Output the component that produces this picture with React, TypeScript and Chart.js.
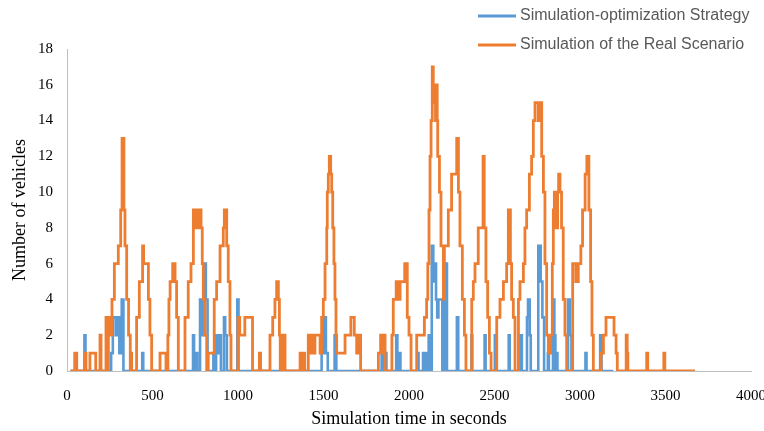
import React, { useEffect, useRef } from "react";
import { Chart, registerables } from "chart.js";

Chart.register(...registerables);

// ---- Data (change points of step series: from time t the value is v) ----
const seriesLabels = ["Simulation-optimization Strategy", "Simulation of the Real Scenario"];
const xTicksMax = 4000;
const yTicksMax = 18;

const blueTimes = [
  20, 102, 108, 258, 268, 285, 292, 306, 320, 330, 440, 446,
  737, 743, 752, 762, 778, 788, 800, 812, 822,
  856, 862, 872, 878, 890, 900, 918, 925, 935, 996, 1003,
  1489, 1503, 1514, 1525, 1565, 1575,
  1840, 1848, 1862, 1868, 1925, 1932, 1945, 1950,
  2050, 2056, 2082, 2088, 2100, 2106, 2115, 2120,
  2133, 2142, 2150, 2158, 2165, 2172, 2180, 2195, 2208, 2222,
  2280, 2288, 2365, 2370, 2442, 2448, 2502, 2508, 2583, 2589, 2652, 2660,
  2690, 2696, 2706, 2712, 2756, 2770, 2780, 2790,
  2812, 2818, 2842, 2850, 2856, 2862, 2868, 2930, 2940, 2950,
  3032, 3038, 3118, 3126, 3195,
];
const blueValues = [
  0, 2, 0, 1, 3, 2, 3, 1, 4, 0, 1, 0,
  2, 0, 1, 0, 4, 2, 6, 4, 0,
  1, 0, 2, 1, 2, 0, 3, 2, 0, 4, 0,
  1, 3, 1, 0, 2, 0,
  2, 0, 1, 0, 2, 0, 1, 0,
  1, 0, 1, 0, 1, 0, 2, 0,
  7, 5, 6, 4, 3, 4, 4, 0, 6, 0,
  3, 0, 2, 0, 2, 0, 2, 0, 2, 0, 2, 0,
  3, 4, 2, 0, 7, 5, 3, 0,
  1, 0, 4, 2, 0, 1, 0, 4, 2, 0,
  1, 0, 2, 0, 0,
];

const orangeTimes = [
  20, 45, 57, 105, 111, 134, 168, 193, 199, 228, 236, 242, 251,
  263, 277, 300, 314, 322, 333, 339, 349, 360, 370, 372, 378,
  407, 423, 442, 448, 476, 485, 495, 544, 579,
  590, 596, 603, 618, 632, 641, 651,
  690, 709, 725, 739, 752, 760, 768, 775, 784, 791, 797, 807, 817,
  826, 861, 875, 895, 914, 920, 934, 943, 953, 959,
  1000, 1010, 1040, 1085, 1125, 1132,
  1187, 1203, 1216, 1226, 1236, 1242, 1247, 1255, 1262, 1268, 1275,
  1363, 1370, 1382, 1390, 1411, 1421, 1430, 1441, 1450, 1480,
  1489, 1499, 1509, 1519, 1522, 1528, 1534, 1542, 1548, 1554, 1561, 1567, 1573, 1577,
  1626, 1660, 1680, 1694, 1704, 1717,
  1821, 1834, 1846, 1852, 1860,
  1900, 1908, 1925, 1940, 1948, 1975, 1990, 2000, 2012,
  2045, 2090, 2103, 2110, 2117, 2123, 2129, 2136, 2142, 2148, 2155, 2160, 2165, 2168,
  2178, 2187, 2201, 2207, 2230, 2249, 2279, 2289, 2298, 2312, 2324, 2333,
  2367, 2376, 2386, 2405, 2433, 2440, 2450, 2460, 2470, 2480,
  2513, 2532, 2552, 2571, 2581, 2593, 2600, 2610, 2620,
  2640, 2649, 2669, 2678, 2688, 2704, 2717, 2727, 2737, 2756, 2766, 2776, 2786, 2795,
  2805, 2815, 2828, 2838, 2844, 2850, 2860, 2869, 2875, 2883, 2892, 2902, 2912, 2922,
  2957, 2975, 2990, 3005, 3015, 3030, 3040, 3052, 3062, 3070, 3078,
  3123, 3137, 3152, 3199, 3211, 3218, 3270, 3276, 3280, 3390, 3396, 3490, 3496, 3673,
];
const orangeValues = [
  0, 1, 0, 1, 0, 1, 0, 2, 0, 3, 0, 3, 2,
  4, 6, 7, 9, 13, 9, 7, 4, 2, 0, 1, 0,
  3, 5, 7, 6, 4, 2, 0, 1, 0,
  2, 4, 5, 6, 5, 3, 0,
  3, 5, 6, 9, 8, 9, 8, 9, 8, 6, 4, 2, 0,
  1, 4, 5, 7, 8, 9, 7, 5, 2, 0,
  3, 2, 3, 0, 1, 0,
  2, 3, 4, 5, 4, 2, 0, 2, 0, 2, 0,
  1, 0, 1, 0, 2, 1, 2, 1, 2, 1,
  3, 4, 6, 8, 10, 11, 12, 11, 10, 8, 6, 4, 2, 1,
  2, 3, 2, 1, 2, 0,
  1, 2, 1, 2, 0,
  2, 4, 5, 4, 5, 6, 3, 2, 0,
  2, 3, 4, 6, 9, 12, 14, 17, 15, 16, 14, 16, 14, 12,
  10, 7, 4, 7, 9, 11, 13, 10, 7, 4, 2, 0,
  4, 5, 6, 8, 12, 8, 5, 3, 1, 0,
  3, 4, 5, 6, 9, 6, 4, 3, 0,
  4, 5, 6, 8, 9, 11, 12, 14, 15, 14, 15, 12, 10, 6,
  2, 1, 2, 6, 9, 10, 8, 10, 11, 10, 8, 4, 2, 0,
  6, 5, 6, 7, 9, 11, 12, 9, 5, 2, 0,
  1, 2, 3, 2, 1, 0, 2, 1, 0, 1, 0, 1, 0, 0,
];

const BLUE = "#5B9BD5";
const ORANGE = "#ED7D31";
const SERIF = "'Liberation Serif', 'Times New Roman', serif";

const toPoints = (ts: number[], vs: number[]) => ts.map((t, i) => ({ x: t, y: vs[i] }));

const cornerLegend = {
  id: "cornerLegend",
  afterDraw(chart: any) {
    const ctx = chart.ctx;
    const rows = [16, 45];
    const order = [1, 0]; // blue first, orange second
    ctx.save();
    order.forEach((dsIndex, i) => {
      const ds = chart.data.datasets[dsIndex];
      const y = rows[i];
      ctx.strokeStyle = ds.borderColor;
      ctx.lineWidth = 3;
      ctx.beginPath();
      ctx.moveTo(478, y);
      ctx.lineTo(516, y);
      ctx.stroke();
      ctx.fillStyle = "#595959";
      ctx.font = "16px 'Liberation Sans', Arial, sans-serif";
      ctx.textBaseline = "middle";
      ctx.textAlign = "left";
      ctx.fillText(ds.label, 520, y);
    });
    ctx.restore();
  },
};

export default function App() {
  const canvasRef = useRef<HTMLCanvasElement | null>(null);

  useEffect(() => {
    if (!canvasRef.current) return;
    const chart = new Chart(canvasRef.current, {
      type: "line",
      data: {
        datasets: [
          {
            label: seriesLabels[1],
            data: toPoints(orangeTimes, orangeValues),
            borderColor: ORANGE,
            backgroundColor: ORANGE,
            borderWidth: 2.8,
            stepped: true,
            pointRadius: 0,
            fill: false,
            order: 0,
          },
          {
            label: seriesLabels[0],
            data: toPoints(blueTimes, blueValues),
            borderColor: BLUE,
            backgroundColor: BLUE,
            borderWidth: 2.6,
            stepped: true,
            pointRadius: 0,
            fill: false,
            order: 1,
          },
        ],
      },
      options: {
        animation: false,
        responsive: false,
        devicePixelRatio: 1,
        layout: { padding: { top: 49, right: 13, left: 0, bottom: 0 } },
        plugins: {
          legend: { display: false },
          tooltip: { enabled: false },
        },
        scales: {
          x: {
            type: "linear",
            min: 0,
            max: xTicksMax,
            ticks: {
              stepSize: 500,
              color: "#000",
              font: { family: SERIF, size: 15 },
              padding: 16,
              maxRotation: 0,
              callback: (v: any) => String(v),
            },
            grid: { display: false, drawTicks: false },
            border: { display: true, color: "#BFBFBF", width: 1 },
            title: {
              display: true,
              text: "Simulation time in seconds",
              color: "#000",
              font: { family: SERIF, size: 18 },
              padding: { top: 0, bottom: 1 },
            },
            afterFit(scale: any) {
              scale.height = 60;
              scale.paddingLeft = 0;
              scale.paddingRight = 0;
            },
          },
          y: {
            min: 0,
            max: yTicksMax,
            ticks: {
              stepSize: 2,
              color: "#000",
              font: { family: SERIF, size: 15 },
              padding: 14,
              callback: (v: any) => String(v),
            },
            grid: { display: false, drawTicks: false },
            border: { display: true, color: "#BFBFBF", width: 1 },
            title: {
              display: true,
              text: "Number of vehicles",
              color: "#000",
              font: { family: SERIF, size: 18 },
              padding: { top: 9, bottom: 0 },
            },
            afterFit(scale: any) {
              scale.width = 67;
              scale.paddingTop = 0;
              scale.paddingBottom = 0;
            },
          },
        },
      },
      plugins: [cornerLegend],
    });
    return () => chart.destroy();
  }, []);

  return (
    <div style={{ position: "absolute", left: 0, top: 0, width: 764, height: 431, background: "#fff" }}>
      <canvas ref={canvasRef} width={764} height={431} />
    </div>
  );
}
